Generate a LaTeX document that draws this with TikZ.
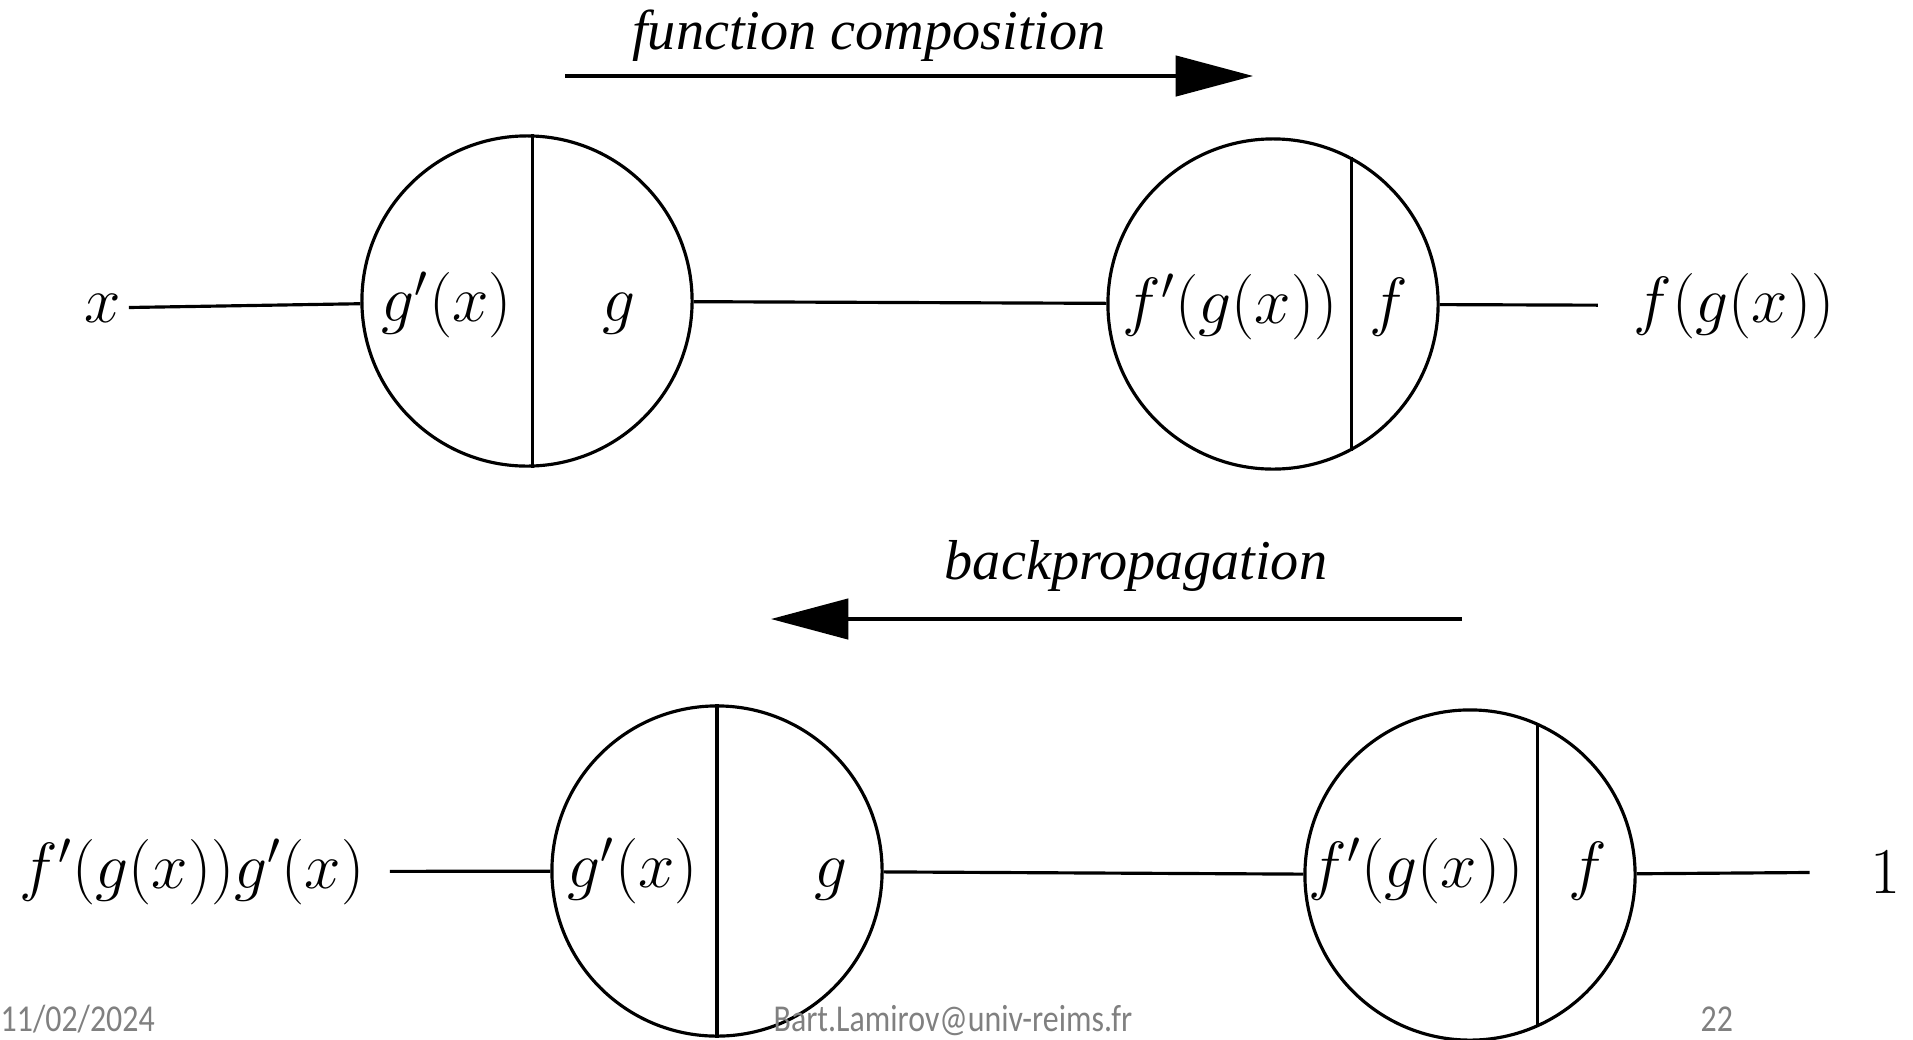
\RequirePackage{fix-cm}
\documentclass[tikz,border=0pt]{standalone}
\usepackage{fontspec}
\setmainfont{Liberation Serif}
\newfontfamily\carlito{Carlito}
\usetikzlibrary{arrows.meta}
\definecolor{footgray}{RGB}{128,128,128}

\begin{document}
\begin{tikzpicture}[
  x=0.01cm, y=-0.01cm,
  unit/.style={circle,draw,line width=0.9pt,minimum size=3.3cm,inner sep=0pt},
  mathlabel/.style={anchor=base,font=\fontsize{18.6}{22}\selectfont,inner sep=2pt},
  flowlabel/.style={anchor=base,font=\fontsize{16}{19}\selectfont\itshape},
  wire/.style={line width=0.9pt},
  flowarrow/.style={-{Triangle[length=22pt,width=11.5pt]},line width=0.9pt},
  footer/.style={anchor=base west,inner sep=0pt,text=footgray,
                 font=\fontsize{10.8}{12}\selectfont\carlito},
]
\useasboundingbox (0,0) rectangle (1913,1039);

% Forward pass: function composition
\coordinate (fcs) at (565,76);
\coordinate (fce) at (1253,76);
\draw[flowarrow] (fcs) -- (fce);
\node[flowlabel] (fclabel) at (869,49) {function composition};

\node[unit] (gt) at (527,301) {};
\node[unit] (ft) at (1273,304) {};
\draw[wire] (gt.88) -- (gt.-88);
\draw[wire] (ft.62) -- (ft.-62);

\node[mathlabel] (xin) at (103,322) {$x$};
\node[mathlabel] (gdt) at (447,321) {$g'(x)$};
\node[mathlabel] (glt) at (619,321) {$g$};
\node[mathlabel] (fdt) at (1230,323) {$f'(g(x))$};
\node[mathlabel] (flt) at (1389,323) {$f$};
\node[mathlabel] (fout) at (1734,322) {$f(g(x))$};

\draw[wire] (xin) -- (gt);
\draw[wire] (gt) -- (ft);
\draw[wire,shorten >=8pt] (ft) -- (fout);

% Backward pass: backpropagation
\coordinate (bps) at (1462,619);
\coordinate (bpe) at (771,619);
\draw[flowarrow] (bps) -- (bpe);
\node[flowlabel] (bplabel) at (1136,579) {backpropagation};

\node[unit] (gb) at (717,871) {};
\node[unit] (fb) at (1470,875) {};
\draw[wire] (gb.north) -- (gb.south);
\draw[wire] (fb.66) -- (fb.-66);

\node[mathlabel] (gradout) at (192,888) {$f'(g(x))g'(x)$};
\node[mathlabel] (gdb) at (633,887) {$g'(x)$};
\node[mathlabel] (glb) at (831,887) {$g$};
\node[mathlabel] (fdb) at (1416,887) {$f'(g(x))$};
\node[mathlabel] (flb) at (1588,887) {$f$};
\node[mathlabel] (one) at (1885,893) {$1$};

\draw[wire,shorten <=5pt] (gradout) -- (gb);
\draw[wire] (gb) -- (fb);
\draw[wire,shorten >=15pt] (fb) -- (one);

% Slide footer
\node[footer] (date) at (0,1031) {\scalebox{0.84}[1]{11/02/2024}};
\node[footer] (mail) at (773,1031) {\scalebox{0.84}[1]{Bart.Lamirov@univ-reims.fr}};
\node[footer] (page) at (1700,1031) {\scalebox{0.84}[1]{22}};

\end{tikzpicture}
\end{document}
